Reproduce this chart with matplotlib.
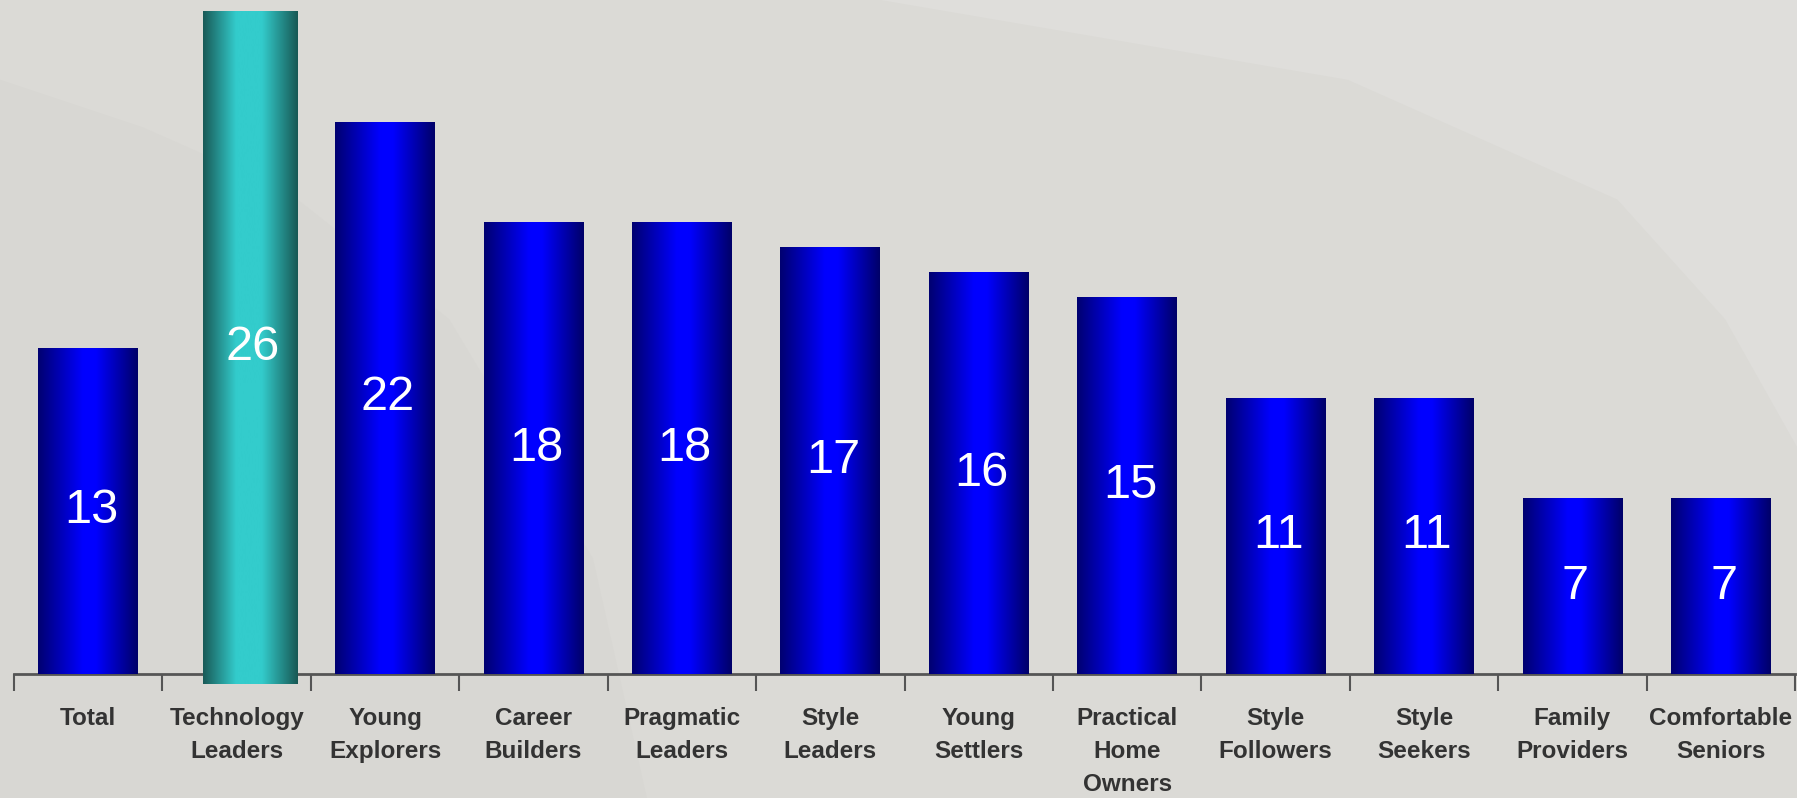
import numpy as np
import matplotlib
matplotlib.use('Agg')
import matplotlib.pyplot as plt
from matplotlib.colors import LinearSegmentedColormap
from matplotlib.patches import Polygon

# datos del grafico
categorias = ['Total', 'Technology\nLeaders', 'Young\nExplorers', 'Career\nBuilders',
              'Pragmatic\nLeaders', 'Style\nLeaders', 'Young\nSettlers',
              'Practical\nHome\nOwners', 'Style\nFollowers', 'Style\nSeekers',
              'Family\nProviders', 'Comfortable\nSeniors']
valores = [13, 26, 22, 18, 18, 17, 16, 15, 11, 11, 7, 7]
destacado = 1  # Technology Leaders

fuente = ['Liberation Sans', 'DejaVu Sans']

azul = LinearSegmentedColormap.from_list(
    'azul', [(0, '#000070'), (0.45, '#0000ff'), (0.58, '#0000ff'), (1, '#000068')])
turquesa = LinearSegmentedColormap.from_list(
    'turq', [(0, '#195a57'), (0.35, '#33cccc'), (0.62, '#33cccc'), (1, '#185854')])

fig = plt.figure(figsize=(17.97, 7.98), dpi=100)
fig.patch.set_facecolor('#dbdad6')

# fondo con formas suaves
fondo = fig.add_axes([0, 0, 1, 1], zorder=-1)
fondo.set_xlim(0, 1)
fondo.set_ylim(0, 1)
fondo.axis('off')
fondo.add_patch(Polygon([[0.49, 1], [1, 1], [1, 0.44], [0.96, 0.6], [0.9, 0.75], [0.75, 0.9]],
                        closed=True, fc='#dfdedb', ec='none'))
fondo.add_patch(Polygon([[0, 0.9], [0.08, 0.84], [0.16, 0.76], [0.25, 0.6], [0.33, 0.3],
                         [0.36, 0.0], [0, 0]],
                        closed=True, fc='#d8d7d3', ec='none'))

ax = fig.add_axes([0.0078, 0.1554, 0.9911, 0.8446])
ax.set_facecolor('none')

x = np.arange(len(valores))
anchos = [0.64 if i == destacado else 0.672 for i in range(len(valores))]
desplaz = [0.09 if i == destacado else 0 for i in range(len(valores))]
bases = [-0.4 if i == destacado else 0 for i in range(len(valores))]
alturas = [v + 0.8 if i == destacado else v for i, v in enumerate(valores)]

barras = ax.bar(x + np.array(desplaz), alturas, width=anchos, bottom=bases,
                color='none', edgecolor='none', zorder=3)

grad = np.linspace(0, 1, 256).reshape(1, -1)
for i, b in enumerate(barras):
    x0, y0 = b.get_x(), b.get_y()
    w, h = b.get_width(), b.get_height()
    cmap = turquesa if i == destacado else azul
    im = ax.imshow(grad, cmap=cmap, extent=[x0, x0 + w, y0, y0 + h],
                   aspect='auto', zorder=4, interpolation='bicubic')
    im.set_clip_path(b)
    ax.text(x0 + w / 2 + 0.02, y0 + h / 2, str(valores[i]), color='white',
            ha='center', va='center', fontsize=35, family=fuente, zorder=5)

ax.set_xlim(-0.5, len(valores) - 0.5)
ax.set_ylim(0, 26.85)

for s in ['top', 'right', 'left']:
    ax.spines[s].set_visible(False)
ax.spines['bottom'].set_color('#555555')
ax.spines['bottom'].set_linewidth(2)
ax.spines['bottom'].set_zorder(2)
ax.set_yticks([])

ax.set_xticks(x)
ax.set_xticklabels(categorias, fontsize=17.5, fontweight='bold', color='#333333',
                   family=fuente, va='top', linespacing=1.55)
ax.tick_params(axis='x', which='major', length=0, pad=24)
ax.set_xticks(np.arange(-0.5, len(valores)), minor=True)
ax.tick_params(axis='x', which='minor', length=12, width=1.5, color='#555555', direction='out')

fig.savefig('out.png', dpi=100, facecolor=fig.get_facecolor())
